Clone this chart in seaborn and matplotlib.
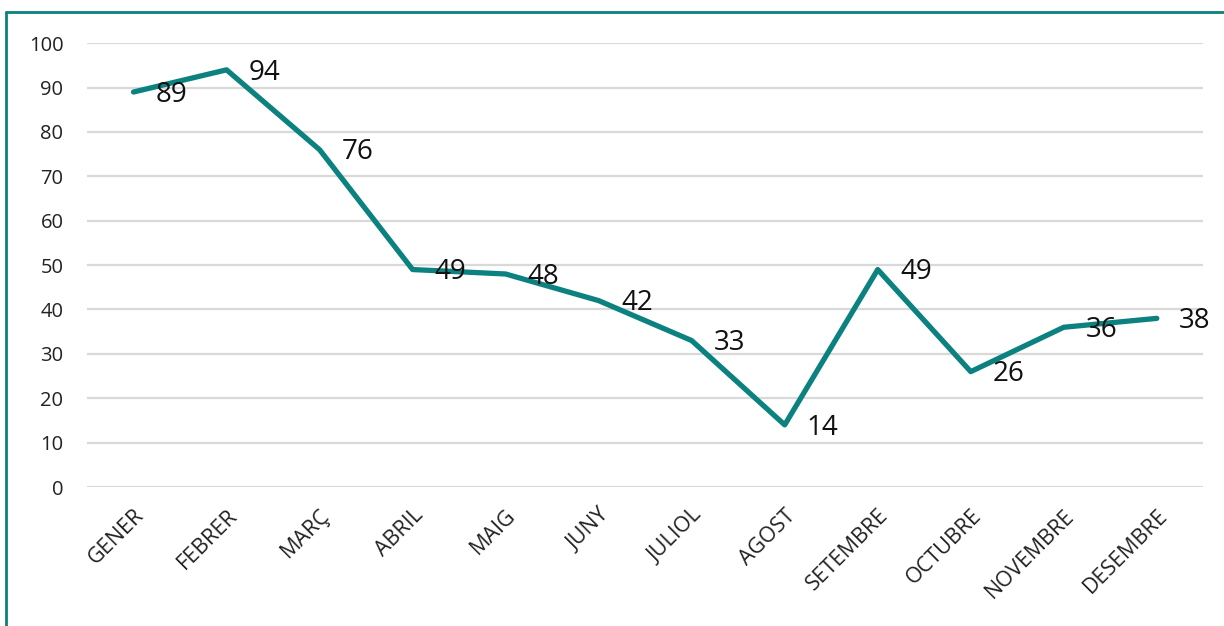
import matplotlib
matplotlib.use('Agg')
import matplotlib.pyplot as plt
import seaborn as sns
import pandas as pd

# Dades del gràfic
mesos = ['GENER', 'FEBRER', 'MARÇ', 'ABRIL', 'MAIG', 'JUNY', 'JULIOL',
         'AGOST', 'SETEMBRE', 'OCTUBRE', 'NOVEMBRE', 'DESEMBRE']
valors = [89, 94, 76, 49, 48, 42, 33, 14, 49, 26, 36, 38]
ticks_y = [0, 10, 20, 30, 40, 50, 60, 70, 80, 90, 100]

color_linia = '#0B8180'

sns.set_style('white')
plt.rcParams['font.family'] = ['Open Sans', 'DejaVu Sans']

df = pd.DataFrame({'mes': mesos, 'valor': valors})
df['pos'] = range(len(mesos))

fig = plt.figure(figsize=(12.24, 6.26), dpi=100)
ax = fig.add_axes([0.0711, 0.222, 0.912, 0.709])

sns.lineplot(data=df, x='pos', y='valor', color=color_linia, linewidth=3.8,
             ax=ax, zorder=3)

# etiquetes de dades a la dreta de cada punt
for i, v in enumerate(valors):
    ax.annotate(str(v), (i, v), xytext=(16, -2), textcoords='offset points',
                ha='left', va='center', fontsize=20, color='#111111', zorder=4)

ax.set_xlim(-0.5, len(mesos) - 0.5)
ax.set_ylim(0, 100)
ax.set_yticks(ticks_y)
ax.set_xticks(range(len(mesos)))
ax.set_xticklabels(mesos, rotation=45, ha='right', rotation_mode='anchor',
                   fontsize=15.5, color='#222222')
ax.tick_params(axis='y', labelsize=14.5, labelcolor='#222222', length=0, pad=17)
ax.tick_params(axis='x', length=0, pad=13)
ax.yaxis.grid(True, color='#D9D9D9', linewidth=1.6)
ax.set_axisbelow(True)
for s in ax.spines.values():
    s.set_visible(False)
ax.set_xlabel('')
ax.set_ylabel('')

# marc de la figura (esquerra i dalt)
fig.add_artist(plt.Line2D([6 / 1224, 6 / 1224], [0, 1 - 12 / 626],
                          color=color_linia, linewidth=2, transform=fig.transFigure))
fig.add_artist(plt.Line2D([6 / 1224, 1], [1 - 12 / 626, 1 - 12 / 626],
                          color=color_linia, linewidth=2, transform=fig.transFigure))

fig.savefig('out.png', dpi=100)
